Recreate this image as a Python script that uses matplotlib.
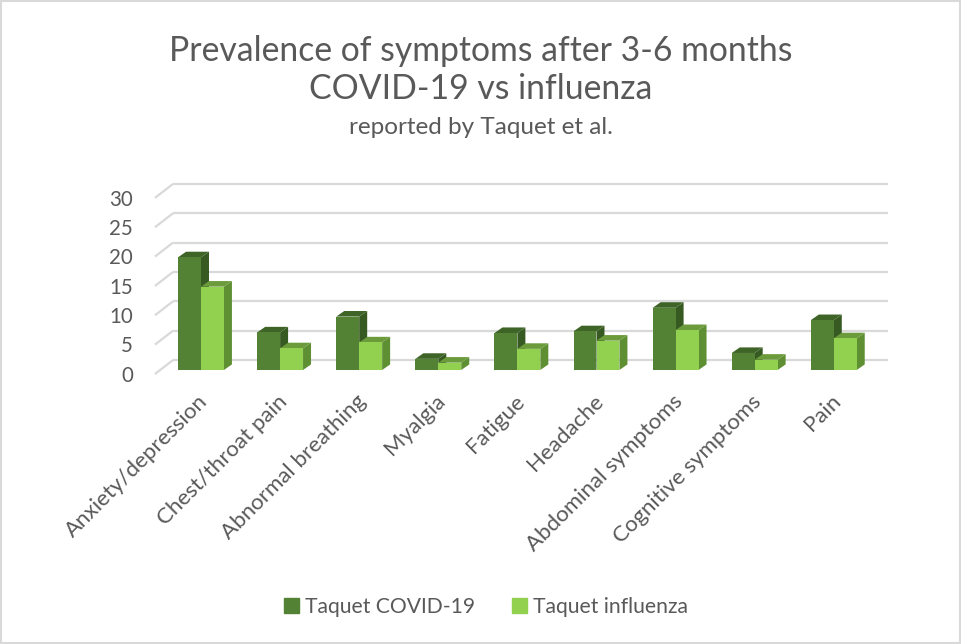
import matplotlib
matplotlib.use("Agg")
import matplotlib.pyplot as plt
from matplotlib.patches import Rectangle, Patch

categories = ["Anxiety/depression", "Chest/throat pain", "Abnormal breathing", "Myalgia",
              "Fatigue", "Headache", "Abdominal symptoms", "Cognitive symptoms", "Pain"]
covid = [19.2, 6.4, 9.1, 1.9, 6.3, 6.6, 10.6, 2.9, 8.5]
influenza = [14.2, 3.7, 4.7, 1.25, 3.6, 5.0, 6.8, 1.75, 5.4]
series_names = ["Taquet COVID-19", "Taquet influenza"]
yticks = [0, 5, 10, 15, 20, 25, 30]

FONT = "Lato"
TXT = "#595959"
W, H = 962, 644
fig = plt.figure(figsize=(W / 100, H / 100), dpi=100)

# pixel mapping of the bar-front plane
x0px, xstep = 201.0, 79.1
y0px, ystep = 370.0, 5.87
xlim = (-0.7, 8.8)
ylim = (-1.0, 32.0)
left = (x0px + xlim[0] * xstep) / W
right = (x0px + xlim[1] * xstep) / W
bottom = (H - (y0px - ylim[0] * ystep)) / H
top = (H - (y0px - ylim[1] * ystep)) / H
ax = fig.add_axes([left, bottom, right - left, top - bottom])
ax.set_xlim(*xlim)
ax.set_ylim(*ylim)
ax.axis("off")

# wall geometry (data units of bar-front plane)
front_x, front_dy = -0.582, -0.68
back_x, back_dy = -0.354, 1.70
back_right = 8.685
grid_c = "#d9d9d9"
for v in yticks:
    ax.plot([front_x, back_x], [v + front_dy, v + back_dy], color=grid_c, lw=1.6,
            solid_capstyle="butt", zorder=1, clip_on=False)
    ax.plot([back_x, back_right], [v + back_dy, v + back_dy], color=grid_c, lw=1.6,
            solid_capstyle="butt", zorder=1, clip_on=False)
    ax.text(front_x - 0.28, v + front_dy - 0.3, str(v), ha="right", va="center",
            fontsize=14.8, color=TXT, family=FONT)

# bars
bw = 0.29
ddx, ddy = 0.101, 0.95
colors = [
    dict(front="#548235", top="#3f6428", side="#375a22"),
    dict(front="#92d050", top="#6b9b3b", side="#5f8f33"),
]
z = 2
for i in range(len(categories)):
    for s, vals in enumerate([covid, influenza]):
        v = vals[i]
        xa = i - bw + s * bw
        xb = xa + bw
        c = colors[s]
        ax.fill([xb, xb + ddx, xb + ddx, xb], [0, ddy, v + ddy, v], color=c["side"],
                zorder=z, lw=0, clip_on=False)
        ax.fill([xa, xb, xb + ddx, xa + ddx], [v, v, v + ddy, v + ddy], color=c["top"],
                zorder=z, lw=0, clip_on=False)
        ax.bar(xa, v, width=bw, align="edge", color=c["front"], zorder=z + 0.5,
               lw=0, clip_on=False)
        z += 1

# category labels
for i, cat in enumerate(categories):
    ax.text(i - 0.04, -3.6, cat, rotation=45, rotation_mode="anchor", ha="right",
            va="top", fontsize=16, color=TXT, family=FONT)

# titles
fig.text(0.5, 1 - 51 / H, "Prevalence of symptoms after 3-6 months", ha="center",
         va="center", fontsize=24.3, color=TXT, family=FONT)
fig.text(0.5, 1 - 89 / H, "COVID-19 vs influenza", ha="center", va="center",
         fontsize=24.3, color=TXT, family=FONT)
fig.text(0.5, 1 - 128 / H, "reported by Taquet et al.", ha="center", va="center",
         fontsize=17.5, color=TXT, family=FONT)

# legend
handles = [Patch(color=colors[0]["front"]), Patch(color=colors[1]["front"])]
leg = fig.legend(handles, series_names, loc="center", bbox_to_anchor=(486 / W, 1 - 607 / H),
                 ncol=2, frameon=False, handlelength=0.7, handleheight=0.7,
                 handletextpad=0.3, columnspacing=1.75,
                 prop=dict(family=FONT, size=15.2))
for t in leg.get_texts():
    t.set_color(TXT)

# chart border
fig.add_artist(Rectangle((0.001, 0.002), 0.997, 0.996, transform=fig.transFigure,
                         fill=False, edgecolor="#d9d9d9", lw=1.5))

fig.savefig("out.png", dpi=100, facecolor="white")
